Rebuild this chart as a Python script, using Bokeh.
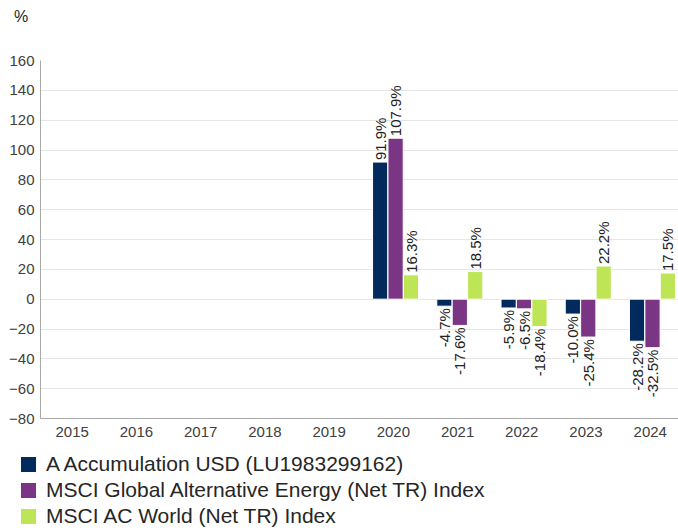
import math
from bokeh.plotting import figure
from bokeh.layouts import column
from bokeh.models import Range1d, FixedTicker, ColumnDataSource, Legend, LegendItem, Label
from bokeh.transform import dodge
from bokeh.core.properties import value
from bokeh.embed import file_html
from bokeh.resources import INLINE

# ---- data ----
years = [2015, 2016, 2017, 2018, 2019, 2020, 2021, 2022, 2023, 2024]
fund = [None, None, None, None, None, 91.9, -4.7, -5.9, -10.0, -28.2]
alt_energy = [None, None, None, None, None, 107.9, -17.6, -6.5, -25.4, -32.5]
acwi = [None, None, None, None, None, 16.3, 18.5, -18.4, 22.2, 17.5]
series_names = [
    "A Accumulation USD (LU1983299162)",
    "MSCI Global Alternative Energy (Net TR) Index",
    "MSCI AC World (Net TR) Index",
]
y_ticks = [-80, -60, -40, -20, 0, 20, 40, 60, 80, 100, 120, 140, 160]
unit_label = "%"

colors = ["#022a5c", "#7b3585", "#bde556"]
offsets = [-0.205, 0.035, 0.275]
FONT = "Liberation Sans"


def blank(h):
    f = figure(width=678, height=h, output_backend="svg", toolbar_location=None,
               x_axis_location=None, y_axis_location=None,
               x_range=Range1d(0, 1), y_range=Range1d(0, 1),
               min_border_left=0, min_border_right=0, min_border_top=0,
               min_border_bottom=0, frame_align=False)
    f.outline_line_color = None
    f.grid.visible = False
    return f


# ---- top strip: unit label ----
p0 = blank(30)
p0.add_layout(Label(x=13.5, y=14, x_units="screen", y_units="screen", text=unit_label,
                    text_font=FONT, text_font_size="16px", text_baseline="alphabetic",
                    text_align="left", text_color="#262626"))

# ---- main chart ----
p = figure(width=678, height=418, output_backend="svg", toolbar_location=None,
           x_range=Range1d(2014.506, 2024.44), y_range=Range1d(-80, 160),
           min_border_left=40, min_border_right=0, min_border_top=30,
           min_border_bottom=30, frame_align=False)
p.outline_line_color = None
p.xgrid.grid_line_color = None
p.ygrid.grid_line_color = "#e6e6e6"
p.ygrid.ticker = FixedTicker(ticks=y_ticks)

p.yaxis.ticker = FixedTicker(ticks=y_ticks)
p.xaxis.ticker = FixedTicker(ticks=years)
p.xaxis.major_label_overrides = {y: str(y) for y in years}
for ax in (p.xaxis[0], p.yaxis[0]):
    ax.axis_line_color = "#a8a8a8"
    ax.major_tick_line_color = None
    ax.minor_tick_line_color = None
    ax.major_tick_out = 0
    ax.major_tick_in = 0
    ax.major_label_text_font = FONT
    ax.major_label_text_font_size = "15px"
    ax.major_label_text_color = "#404040"
p.yaxis.major_label_standoff = 6
p.xaxis.major_label_standoff = 8

# ---- legend strip ----
p2 = blank(82)

items = []
for vals, name, color, off in zip([fund, alt_energy, acwi], series_names, colors, offsets):
    xs = [y for y, v in zip(years, vals) if v is not None]
    vs = [v for v in vals if v is not None]
    src = ColumnDataSource(dict(x=xs, v=vs))
    p.vbar(x=dodge("x", off, range=p.x_range), top="v", bottom=0, width=0.237,
           fill_color=color, line_color="white", line_width=1, source=src)
    # legend proxy (its data lies outside the legend strip's ranges)
    r2 = p2.vbar(x="x", top="v", bottom=0, width=0.237, fill_color=color,
                 line_color="white", line_width=1, source=src)
    items.append(LegendItem(label=name, renderers=[r2]))
    pos = ColumnDataSource(dict(x=[x for x, v in zip(xs, vs) if v >= 0],
                                v=[v for v in vs if v >= 0],
                                t=[f"{v:.1f}%" for v in vs if v >= 0]))
    neg = ColumnDataSource(dict(x=[x for x, v in zip(xs, vs) if v < 0],
                                v=[v for v in vs if v < 0],
                                t=[f"{v:.1f}%" for v in vs if v < 0]))
    p.text(x=dodge("x", off, range=p.x_range), y="v", text="t", source=pos,
           angle=math.pi / 2, text_align="left", text_baseline="middle",
           y_offset=-2, text_font=value(FONT), text_font_size="15px",
           text_color="#222222")
    p.text(x=dodge("x", off, range=p.x_range), y="v", text="t", source=neg,
           angle=math.pi / 2, text_align="right", text_baseline="middle",
           y_offset=2, text_font=value(FONT), text_font_size="15px",
           text_color="#222222")

leg = Legend(items=items, location=(18, 2))
leg.glyph_width = 20
leg.glyph_height = 20
leg.label_height = 20
leg.label_standoff = 8
leg.spacing = 2
leg.padding = 0
leg.margin = 0
leg.border_line_color = None
leg.background_fill_alpha = 0
leg.label_text_font = FONT
leg.label_text_font_size = "21px"
leg.label_text_color = "#262626"
p2.add_layout(leg, "center")

layout = column(p0, p, p2, spacing=0)
open("out.html", "w").write(file_html(layout, INLINE))
